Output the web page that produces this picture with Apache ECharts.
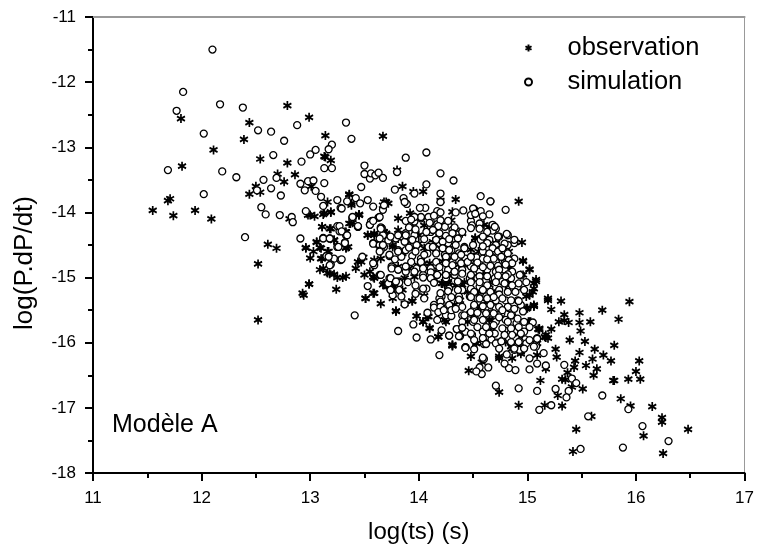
<!DOCTYPE html>
<html><head><meta charset="utf-8">
<script src="https://cdn.jsdelivr.net/npm/echarts@6/dist/echarts.min.js"></script>
<style>html,body{margin:0;padding:0;background:#fff}#c{width:757px;height:555px}</style>
</head><body><div id="c"></div>
<script>
const observation = [
[11.81,-12.56],[12.79,-12.36],[12.99,-12.54],[12.44,-12.62],[12.39,-12.88],[12.11,-13.04],[12.54,-13.18],[13.14,-12.82],[13.67,-12.83],[13.14,-13.15],[13.19,-13.20],[12.79,-13.24],[11.82,-13.29],[12.70,-13.41],[12.86,-13.42],[12.76,-13.53],[12.50,-13.60],[12.54,-13.69],[12.44,-13.72],[13.01,-13.60],[11.71,-13.79],[11.69,-13.82],[11.55,-13.97],[11.74,-14.05],[11.94,-13.97],[12.09,-14.10],[12.81,-14.10],[12.98,-14.04],[13.04,-14.06],[13.12,-14.03],[13.19,-14.00],[13.16,-13.84],[13.36,-13.72],[13.38,-13.89],[13.68,-13.84],[13.45,-14.03],[13.37,-14.17],[13.32,-14.30],[13.11,-14.22],[13.18,-14.25],[13.53,-14.35],[13.59,-14.32],[13.70,-14.32],[13.06,-14.45],[13.22,-14.42],[13.09,-14.54],[13.33,-14.54],[12.61,-14.49],[12.69,-14.55],[12.96,-14.54],
[12.52,-14.79],[12.52,-15.65],[12.94,-15.27],[12.99,-15.10],[13.09,-14.88],[13.00,-14.70],[13.30,-15.00],
[15.94,-15.37],[15.69,-15.50],[15.84,-15.64],[15.48,-15.54],[15.34,-15.57],[15.29,-15.68],[15.34,-15.66],[15.38,-15.69],[15.48,-15.69],[15.58,-15.68],[15.22,-15.49],[15.49,-15.82],[15.22,-15.79],[15.39,-15.96],[15.53,-15.98],[15.80,-16.04],[15.26,-16.10],[15.62,-16.10],[15.48,-16.15],[15.70,-16.19],[15.27,-16.22],[15.60,-16.25],[15.77,-16.28],[16.03,-16.28],[15.44,-16.28],[15.54,-16.35],[15.43,-16.38],[15.64,-16.40],[15.17,-16.40],[16.00,-16.44],[15.37,-16.46],[15.61,-16.50],[16.04,-16.56],[15.93,-16.56],[15.79,-16.58],[15.80,-16.58],[15.32,-16.56],[15.35,-16.57],[15.12,-16.58],[15.51,-16.71],[15.41,-16.68],[14.74,-16.76],[15.28,-16.81],[15.86,-16.86],[14.92,-16.96],[15.16,-16.96],[15.32,-16.97],[15.95,-16.97],[16.15,-16.98],[15.59,-17.13],[16.24,-17.15],[16.24,-17.22],[16.48,-17.33],[15.45,-17.33],[16.07,-17.43],[15.42,-17.67],[16.25,-17.70],[14.48,-16.21],[14.74,-16.24],[14.86,-16.24],[14.94,-16.17],[14.58,-16.30],[14.46,-16.43],[14.31,-16.03],[15.10,-15.79],[15.17,-15.92],[15.01,-15.68],[15.06,-15.44],[15.31,-15.36],[15.19,-15.35],[14.99,-15.47],[14.65,-15.65],[14.53,-16.01],[14.66,-15.83],[15.09,-16.19],
[13.13,-13.14],[13.36,-13.73],[13.38,-13.86],[13.70,-13.84],[13.67,-13.89],[13.72,-13.86],[13.85,-13.60],[13.80,-13.35],[14.04,-13.68],[13.95,-13.68],[14.20,-13.82],[14.34,-13.80],[14.92,-13.83],[13.92,-14.01],[13.96,-14.07],[14.31,-13.99],[13.81,-14.09],[13.45,-14.04],[13.00,-14.04],[13.11,-14.22],[13.19,-14.25],[13.36,-14.17],[13.53,-14.35],[13.59,-14.35],[13.70,-14.33],[13.76,-14.50],[13.81,-14.27],[14.34,-14.27],[14.40,-14.32],[14.52,-14.39],[14.65,-14.22],[14.74,-14.53],[14.95,-14.46],[13.06,-14.46],[12.96,-14.55],[13.03,-14.60],[13.10,-14.55],[13.22,-14.43],[13.17,-14.60],[13.33,-14.55],[13.11,-14.71],[13.12,-14.86],[13.16,-14.93],[13.25,-15.00],[13.33,-14.98],[13.22,-14.95],[12.99,-15.10],[12.93,-15.24],[13.24,-15.18],[13.49,-14.69],[13.44,-14.76],[13.42,-14.86],[13.50,-14.96],[13.58,-14.99],[13.59,-14.73],[13.76,-14.53],[13.85,-14.63],[13.95,-14.55],[13.99,-14.81],[13.81,-14.83],[13.91,-14.86],[13.87,-15.01],[13.96,-14.99],[14.05,-14.78],[13.67,-15.11],[13.73,-15.14],[13.78,-15.09],[13.58,-15.24],[13.51,-15.32],[13.65,-15.40],[13.76,-15.32],[13.94,-15.36],[14.05,-15.28],[13.85,-15.19],[13.79,-15.51],[13.98,-15.59],[14.09,-15.60],[14.04,-15.68],[14.10,-15.77],[14.18,-15.91],[14.31,-16.04],[14.24,-15.65],
[14.42,-14.81],[14.45,-14.78],[14.21,-15.09],[14.24,-15.11],[14.40,-15.11],[14.50,-14.99],[14.65,-15.11],[14.57,-15.45],[14.33,-15.42],[14.82,-14.86],[14.94,-14.96],[15.02,-14.88],[14.96,-14.75],[15.08,-15.06],[15.06,-15.17],[15.05,-15.22],[14.99,-15.29],[15.06,-15.42],[15.00,-15.47],[15.19,-15.32],[14.65,-15.65],[14.67,-15.83],[14.53,-16.01],[14.80,-14.53],[14.74,-14.81],[14.10,-14.78],[14.28,-14.58],[14.17,-14.88],[14.27,-15.06],[14.80,-15.11],[15.11,-15.78],[15.16,-15.91],[15.19,-15.93],[15.02,-15.68],[14.93,-15.86],[14.85,-16.06],[15.09,-16.01],
[14.52,-14.40],[14.96,-14.74],[15.02,-14.87],[14.60,-14.19],[14.71,-14.47],[14.83,-14.60],[14.48,-14.57],[14.96,-14.96],[14.83,-14.86],[15.08,-15.03],
[13.79,-15.52],[13.94,-15.36],[13.87,-15.40],[13.98,-15.59],[14.04,-15.68],[14.10,-15.78],[14.18,-15.91],[14.31,-16.05],[14.08,-15.60],[14.25,-15.68],[14.22,-15.09],[14.27,-15.08],[13.78,-15.17],[14.34,-15.12],[14.42,-15.07],[14.45,-15.68],[13.76,-15.09],
[14.65,-15.07],[15.06,-15.09],[15.02,-15.27],[15.06,-15.44],[14.99,-15.48],[14.57,-15.45],[14.68,-15.65],[15.03,-15.68],[15.11,-15.80],[15.17,-15.88],[14.53,-15.24],[14.80,-15.99],[14.86,-16.09],[14.94,-16.14],[14.74,-16.21],[14.48,-15.55],[14.83,-15.07],
[13.13,-14.01],[13.19,-13.99],[13.45,-14.04],[13.39,-14.16],[13.33,-14.30],[13.35,-14.53],[13.16,-14.60],[13.10,-14.71],[13.18,-14.94],[13.51,-15.32],[13.59,-15.24],[13.47,-14.76],[13.55,-14.91],[13.59,-15.01],[13.65,-14.71],[13.68,-14.30],[13.71,-14.42],[13.81,-14.40],[13.68,-15.09],[13.71,-15.14],[13.76,-15.12],
[14.05,-14.20],[14.00,-14.35],[14.13,-14.45],[14.00,-14.48],[13.90,-14.45],[14.30,-14.12],[14.30,-14.70],[14.05,-14.55],[14.22,-14.75],[14.15,-14.95],[14.28,-14.97],[14.37,-14.80],[14.48,-14.70],[14.55,-14.60],[14.60,-14.95],[14.70,-14.80],[14.45,-15.22],[14.55,-15.22],[14.38,-15.35],[14.70,-15.25],[14.62,-15.37]
];
const simulation = [
[12.10,-11.50],[11.83,-12.15],[11.77,-12.44],[12.17,-12.34],[12.38,-12.39],[12.02,-12.79],[12.52,-12.74],[12.64,-12.76],[12.76,-12.90],[12.88,-12.66],[13.33,-12.62],[13.38,-12.87],[13.20,-12.96],[13.17,-13.03],[13.05,-13.04],[13.00,-13.11],[12.66,-13.12],[12.92,-13.22],[13.13,-13.32],[13.20,-13.32],[11.69,-13.35],[12.19,-13.37],[12.32,-13.46],[12.57,-13.50],[12.69,-13.47],[12.91,-13.56],[12.98,-13.52],[13.03,-13.51],[13.13,-13.55],[12.95,-13.66],[13.05,-13.67],[13.10,-13.76],[12.64,-13.63],[12.51,-13.66],[12.73,-13.74],[12.02,-13.72],[12.55,-13.92],[12.59,-14.03],[12.72,-14.04],[12.83,-14.07],[12.84,-14.15],[12.96,-13.98],[12.40,-14.38],[12.91,-14.40],[13.12,-13.90],[13.25,-13.81],[13.28,-13.93],[13.34,-13.83],[13.42,-13.78],[13.46,-13.86],[13.53,-13.81],[13.58,-13.91],[13.67,-13.96],[13.68,-13.89],[13.47,-13.61],[13.50,-13.28],[13.50,-13.41],[13.55,-13.48],[13.56,-13.40],[13.60,-13.43],[13.63,-13.39],[13.67,-13.47],[13.39,-14.08],[13.44,-14.22],[13.55,-14.19],[13.57,-14.13],[13.63,-14.08],[13.66,-14.24],[13.27,-14.29],[13.25,-14.21],[13.33,-14.35],[13.32,-14.46],[13.18,-14.40],[13.12,-14.39],[13.25,-14.53],[13.58,-14.47],[13.63,-14.50],[13.68,-14.53],[13.66,-14.42],
[15.05,-15.69],[14.71,-16.66],[14.92,-16.70],[15.09,-16.74],[15.26,-16.71],[15.38,-16.74],[15.36,-16.84],[15.22,-16.96],[15.11,-17.03],[15.56,-17.13],[15.69,-16.81],[15.93,-17.02],[16.06,-17.28],[16.30,-17.51],[15.88,-17.61],[15.49,-17.63],[15.34,-16.34],[15.41,-16.55],[15.45,-16.62],[15.17,-16.35],[15.15,-16.16],[15.09,-16.32],[15.08,-16.03],[15.02,-16.41],[14.89,-16.42],[14.83,-16.39],[14.79,-16.32],[15.02,-16.24],[14.81,-16.18],[14.64,-16.38],[14.58,-16.48],[14.56,-16.38],[14.53,-16.44],[14.60,-16.25],[14.51,-16.10],[14.43,-16.07],[14.60,-16.02],[14.49,-15.88],[14.42,-15.83],[14.35,-15.79],[14.28,-15.89],[14.38,-15.90],[14.67,-15.95],[14.72,-16.00],[14.77,-15.97],[14.88,-16.11],[14.93,-16.11],[14.97,-16.08],[14.93,-15.98],[14.98,-15.95],[15.09,-15.93],
[13.88,-13.16],[14.07,-13.08],[13.80,-13.38],[14.20,-13.40],[14.32,-13.51],[14.07,-13.57],[13.78,-13.65],[13.96,-13.71],[14.20,-13.71],[14.57,-13.75],[14.66,-13.83],[14.20,-13.84],[14.80,-13.96],[14.65,-14.03],[14.57,-13.98],[14.51,-13.95],[14.41,-13.97],[14.34,-14.00],[14.17,-13.98],[14.06,-13.93],[14.01,-13.93],[13.86,-13.78],[13.89,-13.87],
[13.39,-14.09],[13.56,-14.14],[13.63,-14.08],[13.88,-14.13],[13.96,-14.14],[14.02,-14.09],[14.11,-14.14],[14.17,-14.18],[14.24,-14.22],[14.31,-14.27],[14.40,-14.30],[14.48,-14.13],[14.56,-14.17],[14.68,-14.19],[14.71,-14.25],[14.60,-14.38],[13.27,-14.21],[13.29,-14.29],[13.44,-14.22],[13.55,-14.19],[13.65,-14.23],[13.96,-14.25],
[13.12,-14.40],[13.18,-14.40],[13.34,-14.35],[13.32,-14.47],[13.26,-14.53],[13.58,-14.48],[13.67,-14.35],[13.72,-14.43],[13.64,-14.50],[13.79,-14.40],[13.88,-14.32],[13.96,-14.35],[14.05,-14.41],[14.11,-14.30],[14.19,-14.35],[14.25,-14.36],[14.11,-14.50],[14.19,-14.47],[14.27,-14.47],[14.34,-14.42],[14.42,-14.53],[14.50,-14.50],[14.57,-14.42],[14.65,-14.42],[14.74,-14.37],[14.82,-14.35],[14.88,-14.47],[14.71,-14.50],[14.82,-14.50],[13.87,-14.45],[13.98,-14.50],
[13.15,-14.67],[13.22,-14.71],[13.28,-14.73],[13.19,-14.80],[13.65,-14.58],[13.73,-14.67],[13.81,-14.58],[13.88,-14.58],[13.94,-14.67],[14.02,-14.71],[14.08,-14.63],[14.16,-14.58],[14.24,-14.65],[14.30,-14.58],[14.37,-14.63],[14.43,-14.71],[14.51,-14.68],[14.59,-14.60],[14.67,-14.68],[14.74,-14.58],[14.82,-14.63],[14.88,-14.71],[14.53,-14.78],[14.62,-14.78],[14.71,-14.76],[14.79,-14.78],[14.16,-14.76],[14.31,-14.76],[13.59,-14.81],[13.75,-14.83],
[13.64,-14.96],[13.73,-15.01],[13.82,-15.06],[13.88,-14.91],[13.98,-14.86],[14.04,-14.96],[14.11,-14.86],[14.19,-14.91],[14.27,-14.88],[14.33,-14.96],[14.40,-14.88],[14.48,-14.83],[14.56,-14.91],[14.63,-14.88],[14.71,-14.91],[14.79,-14.88],[14.86,-14.91],[14.14,-15.06],[14.25,-15.01],[14.36,-15.06],[14.47,-15.01],[14.54,-15.01],[14.62,-15.04],[14.70,-15.01],[14.77,-15.06],[14.85,-15.01],[14.93,-14.96],
[13.53,-15.13],[13.72,-15.09],[13.82,-15.19],[13.98,-15.22],[14.07,-15.17],[14.21,-15.29],[14.28,-15.17],[14.40,-15.19],[14.48,-15.17],[14.56,-15.14],[14.65,-15.17],[14.74,-15.19],[14.83,-15.19],[14.91,-15.14],[14.47,-15.29],[14.54,-15.32],[14.62,-15.29],[14.71,-15.35],[14.80,-15.35],[14.91,-15.35],[14.21,-15.40],[14.19,-15.32],[14.37,-15.29],[13.87,-15.41],[14.14,-15.42],[14.28,-15.42],[14.40,-15.45],[14.51,-15.45],[14.62,-15.45],[14.71,-15.47],[14.83,-15.47],[14.94,-15.42],
[14.19,-15.50],[14.25,-15.58],[14.30,-15.59],[14.40,-15.58],[14.47,-15.55],[14.57,-15.58],[14.67,-15.55],[14.76,-15.55],[14.86,-15.58],[14.96,-15.52],[13.41,-15.58],[14.08,-15.54],[14.40,-15.68],[14.50,-15.68],[14.60,-15.65],[14.71,-15.68],[14.80,-15.65],[14.90,-15.70],[13.95,-15.72],[14.21,-15.81],[13.81,-15.82],[13.98,-15.92],[14.11,-15.95],[14.28,-15.89],[14.35,-15.79],[14.43,-15.83],[14.37,-15.90],[14.49,-15.88],[14.59,-15.83],[14.70,-15.86],[14.79,-15.81],[14.88,-15.83],[14.97,-15.83],[14.60,-15.98],[14.71,-16.01],[14.83,-15.93],[14.93,-15.98],[14.43,-16.07],[14.76,-15.98],[14.99,-16.01],[15.08,-16.06],
[13.87,-13.84],[14.02,-14.07],[13.96,-14.07],[13.93,-14.11],[14.09,-14.07],[14.14,-14.05],[14.20,-14.00],[14.20,-14.12],[14.27,-14.13],[14.10,-14.16],[14.18,-14.21],[13.91,-14.23],[13.97,-14.26],[14.33,-14.23],[14.13,-14.27],[14.19,-14.32],[14.31,-14.32],[14.07,-14.30],[14.16,-14.42],[14.09,-14.53],[14.22,-14.45],[14.28,-14.41],[13.94,-14.42],[13.88,-14.35],[13.81,-14.35],[14.36,-14.40],[13.91,-14.54],[13.97,-14.60],[14.05,-14.65],[14.16,-14.63],[14.22,-14.55],[14.28,-14.58],[14.34,-14.50],[14.42,-14.55],[14.13,-14.53],[13.93,-14.76],[14.02,-14.76],[13.78,-14.72],[13.84,-14.68],[14.25,-14.68],[14.33,-14.68],[14.39,-14.65],[13.75,-14.86],[13.81,-14.88],[13.88,-14.83],[13.96,-14.91],[14.04,-14.86],[14.11,-14.92],[14.19,-14.84],[14.25,-14.78],[14.31,-14.81],[14.39,-14.78],[14.45,-14.76],[14.17,-14.96],[14.25,-14.96],[14.33,-14.91],[14.40,-14.94],[14.04,-15.00],[14.11,-15.01],
[14.66,-13.83],[14.50,-13.94],[14.48,-14.04],[14.52,-14.02],[14.59,-14.06],[14.49,-14.20],[14.56,-14.25],[14.68,-14.28],[14.70,-14.22],[14.48,-14.24],[14.63,-14.30],[14.59,-14.37],[14.63,-14.47],[14.73,-14.37],[14.81,-14.33],[14.88,-14.42],[14.79,-14.48],[14.68,-14.55],[14.73,-14.60],[14.59,-14.52],[14.65,-14.63],[14.77,-14.55],[14.53,-14.69],[14.48,-14.68],[14.59,-14.71],[14.69,-14.71],[14.76,-14.68],[14.83,-14.73],[14.86,-14.78],[14.54,-14.77],[14.63,-14.72],[14.73,-14.82],[14.80,-14.80],[14.51,-14.86],[14.59,-14.84],[14.66,-14.82],[14.74,-14.88],[14.82,-14.95],[14.48,-14.96],[14.56,-14.98],[14.63,-14.98],[14.73,-14.97],[14.80,-14.98],
[13.82,-15.08],[13.90,-15.07],[13.97,-15.12],[14.04,-15.17],[13.97,-15.25],[14.05,-15.32],[13.84,-15.29],[13.76,-15.27],[14.14,-15.08],[14.27,-15.21],[14.20,-15.24],[14.30,-15.30],[14.36,-15.19],[14.37,-15.34],[14.20,-15.37],[14.14,-15.46],[14.20,-15.45],[14.18,-15.53],[14.23,-15.50],[14.30,-15.50],[14.17,-15.65],[14.34,-15.48],[14.42,-15.58],[14.40,-15.77],[14.19,-16.19],[14.43,-16.08],
[14.48,-15.07],[14.56,-15.07],[14.63,-15.12],[14.71,-15.07],[14.79,-15.09],[14.86,-15.12],[14.92,-15.09],[14.99,-15.07],[14.51,-15.22],[14.59,-15.19],[14.66,-15.22],[14.74,-15.26],[14.82,-15.22],[14.89,-15.22],[14.97,-15.19],[14.48,-15.30],[14.56,-15.32],[14.63,-15.32],[14.69,-15.30],[14.77,-15.32],[14.85,-15.35],[14.92,-15.36],[14.51,-15.42],[14.59,-15.44],[14.66,-15.42],[14.74,-15.45],[14.82,-15.45],[14.88,-15.48],[14.48,-15.53],[14.54,-15.54],[14.62,-15.55],[14.69,-15.55],[14.77,-15.50],[14.85,-15.58],[14.51,-15.65],[14.59,-15.65],[14.74,-15.61],[14.82,-15.68],[14.91,-15.63],[14.97,-15.68],[14.54,-15.76],[14.62,-15.76],[14.69,-15.73],[14.77,-15.78],[14.85,-15.78],[14.92,-15.76],[15.02,-15.76],[14.48,-15.86],[14.59,-15.93],[14.65,-15.86],[14.79,-15.88],[14.86,-15.88],[14.94,-15.86],[14.51,-15.96],[14.62,-16.02],[14.85,-15.99],[14.92,-15.99],[15.02,-15.96],[15.09,-15.94],[14.74,-16.09],[14.59,-16.23],[14.88,-16.09],[14.97,-16.09],[15.06,-16.06],
[13.29,-13.94],[13.64,-14.07],[13.39,-14.07],[13.44,-14.21],[13.58,-14.13],[13.65,-14.25],[13.64,-14.40],[13.74,-14.37],[13.67,-14.50],[13.64,-14.60],[13.29,-14.72],[13.17,-14.68],[13.18,-14.81],[13.48,-14.68],[13.58,-14.78],[13.73,-14.65],[13.81,-14.60],[13.65,-14.96],[13.74,-15.01],[13.79,-15.06],[13.74,-15.19]
];
const seriesNames = ['observation','simulation'];
const xTitle = 'log(ts) (s)';
const yTitle = 'log(P.dP/dt)';
const note = 'Modèle A';
const font = '"Liberation Sans", Arial, sans-serif';
const star = 'path://M0 -5L0 5M-4.33 -2.5L4.33 2.5M-4.33 2.5L4.33 -2.5';
const chart = echarts.init(document.getElementById('c'), null, {renderer:'canvas'});
const axisBase = {
  axisLine:{show:true,onZero:false,lineStyle:{color:'#000',width:2}},
  axisTick:{show:true,length:8,inside:false,lineStyle:{color:'#000',width:2}},
  minorTick:{show:true,splitNumber:2,length:5,lineStyle:{color:'#000',width:2}},
  splitLine:{show:false},
  axisLabel:{color:'#000',fontSize:17,fontFamily:font}
};
chart.setOption({
  animation:false,
  backgroundColor:'#fff',
  textStyle:{fontFamily:font},
  grid:{left:93,right:11,top:17,bottom:82},
  xAxis:[
    Object.assign({},axisBase,{type:'value',min:11,max:17,interval:1,name:xTitle,nameLocation:'middle',nameGap:47,
      nameTextStyle:{color:'#000',fontSize:24,fontFamily:font},axisLabel:Object.assign({},axisBase.axisLabel,{margin:17})}),
    {type:'value',position:'top',min:11,max:17,axisLine:{show:true,onZero:false,lineStyle:{color:'#999',width:2}},axisTick:{show:false},axisLabel:{show:false},splitLine:{show:false}}
  ],
  yAxis:[
    Object.assign({},axisBase,{type:'value',min:-18,max:-11,interval:1,name:yTitle,nameLocation:'middle',nameGap:55,nameRotate:90,
      nameTextStyle:{color:'#000',fontSize:26,fontFamily:font,padding:[0,36,0,0]},axisLabel:Object.assign({},axisBase.axisLabel,{margin:17})}),
    {type:'value',position:'right',min:-18,max:-11,axisLine:{show:true,onZero:false,lineStyle:{color:'#999',width:1}},axisTick:{show:false},axisLabel:{show:false},splitLine:{show:false}}
  ],
  legend:{
    show:true,orient:'vertical',left:519,top:30,itemWidth:44,itemHeight:7,itemGap:8,align:'left',
    symbolKeepAspect:true,
    data:seriesNames.map(n=>({name:n})),
    textStyle:{color:'#000',fontSize:25.5,fontFamily:font,lineHeight:25,padding:[0,0,0,12]}
  },
  series:[
    {name:seriesNames[0],type:'scatter',data:observation,symbol:star,symbolSize:[8,9],
     itemStyle:{color:'rgba(0,0,0,0)',borderColor:'#000',borderWidth:1.8,opacity:1},z:2},
    {name:seriesNames[1],type:'scatter',data:simulation,symbol:'circle',symbolSize:7,
     itemStyle:{color:'#fff',borderColor:'#000',borderWidth:1.3,opacity:1},z:3}
  ],
  graphic:[{type:'text',left:112,top:413,z:10,style:{text:note,fill:'#000',fontSize:25,fontFamily:font}}]
});
</script></body></html>
